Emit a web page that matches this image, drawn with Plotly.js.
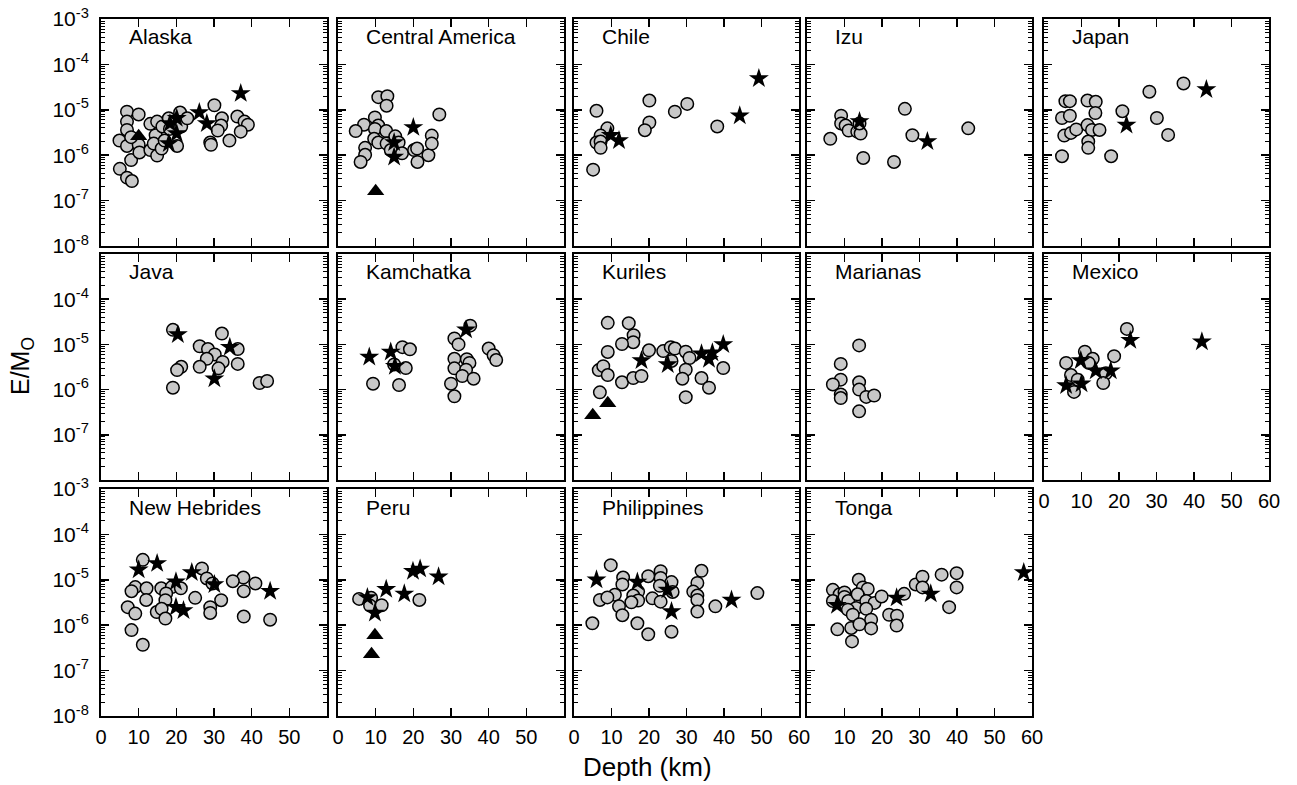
<!DOCTYPE html>
<html><head><meta charset="utf-8">
<script src="https://cdn.plot.ly/plotly-3.0.1.min.js"></script>
<style>html,body{margin:0;padding:0;background:#fff}#chart{width:1297px;height:785px}</style>
</head><body><div id="chart"></div>
<script>
// ---------------- DATA (depth in km, E/M0) ----------------
const regionNames = ["Alaska","Central America","Chile","Izu","Japan","Java","Kamchatka","Kuriles","Marianas","Mexico","New Hebrides","Peru","Philippines","Tonga"];

const alaskaCircDepth = [6.9,10,6.9,6.9,4.9,6.9,8,5,6.9,8.2,10,10.2,13.1,14.9,14.5,13.1,14,14.9,16.1,16.9,16.3,18,18.3,21,21.3,20.2,22.9,30.1,32.1,31.9,31,29,29.2,34.1,36.2,38.1,39,37.1,8];
const alaskaCircEM    = [9.1e-6,7.9e-6,5.5e-6,3.6e-6,2.1e-6,1.6e-6,7.8e-7,5.0e-7,3.2e-7,2.7e-7,1.7e-6,1.15e-6,4.9e-6,5.5e-6,2.75e-6,1.3e-6,1.8e-6,9.8e-7,1.4e-6,2.1e-6,4.3e-6,6.5e-6,3.8e-6,8.7e-6,4.3e-6,1.6e-6,6.5e-6,1.26e-5,6.5e-6,4.5e-6,3.5e-6,1.9e-6,1.7e-6,2.1e-6,7.1e-6,5.5e-6,4.7e-6,3.3e-6,2.5e-6];
const alaskaStarDepth = [37.1,26.1,28.1,18.3,20.1,20.1,18];
const alaskaStarEM    = [2.3e-5,8.7e-6,5.0e-6,5.0e-6,6.5e-6,3.0e-6,1.8e-6];
const alaskaTriDepth  = [10];
const alaskaTriEM     = [2.6e-6];

const camCircDepth = [10.7,13.1,12.9,26.9,9.8,6.9,4.7,10.7,9.8,9.6,10.7,12.8,12.9,15.2,16.1,14,7.2,7.2,6,17,20.2,21.1,24,24.9,24.9,21];
const camCircEM    = [1.9e-5,2.0e-5,1.23e-5,7.9e-6,6.8e-6,4.7e-6,3.4e-6,4.5e-6,3.8e-6,2.3e-6,1.9e-6,3.4e-6,1.8e-6,2.6e-6,1.9e-6,1.3e-6,1.45e-6,1.02e-6,7.1e-7,1.1e-6,1.3e-6,7.1e-7,1.0e-6,2.7e-6,1.8e-6,1.4e-6];
const camStarDepth = [20,14.9,14.9];
const camStarEM    = [4.1e-6,1.9e-6,9.1e-7];
const camTriDepth  = [10];
const camTriEM     = [1.6e-7];

const chileCircDepth = [6,8.9,7.1,6,7.1,7.1,5.1,20.1,20.1,18.9,26.9,30.2,38.2];
const chileCircEM    = [9.5e-6,3.9e-6,2.7e-6,1.9e-6,2.0e-6,1.45e-6,4.8e-7,1.6e-5,5.25e-6,3.55e-6,9.1e-6,1.35e-5,4.3e-6];
const chileStarDepth = [49.3,44.2,9.8,12];
const chileStarEM    = [4.9e-5,7.4e-6,2.75e-6,2.1e-6];

const izuCircDepth = [6.2,9.1,9.1,10.3,11.1,13.4,14.3,15,23.2,26.1,28.1,43,14];
const izuCircEM    = [2.3e-6,7.4e-6,5.0e-6,4.5e-6,3.5e-6,3.3e-6,3.0e-6,8.7e-7,7.1e-7,1.05e-5,2.75e-6,3.9e-6,5.0e-6];
const izuStarDepth = [14,32.1];
const izuStarEM    = [5.5e-6,2.0e-6];

const japanCircDepth = [5.7,6.9,11.6,13.8,28.1,37.2,4.8,6.9,13.7,20.9,30.1,5.4,7.2,8.6,11.6,12.8,14.8,11.8,11.8,33.1,4.8,17.9];
const japanCircEM    = [1.55e-5,1.55e-5,1.6e-5,1.5e-5,2.5e-5,3.8e-5,6.6e-6,7.4e-6,8.5e-6,9.3e-6,6.6e-6,2.7e-6,3.1e-6,3.7e-6,4.6e-6,3.6e-6,3.6e-6,2.0e-6,1.45e-6,2.8e-6,9.5e-7,9.5e-7];
const japanStarDepth = [43.3,22];
const japanStarEM    = [2.8e-5,4.6e-6];

const javaCircDepth = [19.1,32.1,26.2,28.4,36.3,30.2,28.1,32.3,31.2,26.2,36.3,21.3,20.2,19.1,42.1,44.1];
const javaCircEM    = [2.1e-5,1.74e-5,9.1e-6,7.9e-6,7.9e-6,6.0e-6,4.8e-6,4.1e-6,2.95e-6,3.2e-6,3.7e-6,3.2e-6,2.7e-6,1.1e-6,1.4e-6,1.55e-6];
const javaStarDepth = [20.4,34.2,30.1];
const javaStarEM    = [1.66e-5,8.7e-6,1.74e-6];

const kamCircDepth = [35.1,30.9,32,17.1,19.1,40,41.3,42,30.9,34.2,34.9,30.9,34,33,36,14.9,18,9.3,16.2,30,30.9];
const kamCircEM    = [2.6e-5,1.35e-5,1.0e-5,8.7e-6,7.8e-6,8.1e-6,5.75e-6,4.5e-6,4.8e-6,4.7e-6,3.9e-6,2.95e-6,2.75e-6,2.0e-6,1.74e-6,3.6e-6,3.0e-6,1.35e-6,1.26e-6,1.35e-6,7.1e-7];
const kamStarDepth = [8.3,14,15.1,34];
const kamStarEM    = [5.25e-6,6.8e-6,3.3e-6,2.1e-5];

const kurCircDepth = [9,14.6,15.9,15.8,12.8,9,20,23.8,25.8,26.9,26,29.8,30.8,29.8,28.9,29.8,34,36,39.8,6.6,7.8,9,12.8,15.8,18,6.9];
const kurCircEM    = [3.0e-5,2.95e-5,1.6e-5,1.12e-5,1.02e-5,6.8e-6,7.4e-6,7.1e-6,8.7e-6,8.1e-6,4.3e-6,6.9e-6,5.0e-6,2.75e-6,1.74e-6,6.8e-7,1.8e-6,1.1e-6,3.0e-6,2.7e-6,3.3e-6,2.1e-6,1.45e-6,1.8e-6,2.0e-6,8.7e-7];
const kurStarDepth = [18,25,34,36.9,36,39.8];
const kurStarEM    = [4.4e-6,3.6e-6,6.2e-6,6.5e-6,4.7e-6,1.0e-5];
const kurTriDepth  = [5,9];
const kurTriEM     = [2.7e-7,5.0e-7];

const marCircDepth = [13.9,9,9,6.9,9,9,13.9,13.9,15.8,17.9,13.9];
const marCircEM    = [9.5e-6,3.7e-6,1.66e-6,1.3e-6,7.8e-7,6.5e-7,1.45e-6,1.0e-6,6.9e-7,7.4e-7,3.3e-7];

const mexCircDepth = [22.1,10.9,13,11.9,5.9,18.7,7.2,9,16.5,15.8,8];
const mexCircEM    = [2.2e-5,6.9e-6,4.8e-6,3.9e-6,3.9e-6,5.5e-6,2.1e-6,1.66e-6,2.3e-6,1.4e-6,8.9e-7];
const mexStarDepth = [23,42.1,9.8,13.8,17.8,5.9,10];
const mexStarEM    = [1.23e-5,1.15e-5,4.4e-6,2.6e-6,2.6e-6,1.23e-6,1.35e-6];

const nhCircDepth = [11.1,26.8,28.1,29.6,37.8,35,41,37.9,9.1,8.1,12.1,16,18.8,21.2,12,17.3,17.1,25,31.9,7.1,9.1,14.8,16.1,17.1,29,29,37.9,44.9,8.1,11.1];
const nhCircEM    = [2.75e-5,1.78e-5,1.07e-5,8.3e-6,1.12e-5,9.3e-6,8.3e-6,5.6e-6,6.9e-6,5.6e-6,6.5e-6,6.5e-6,6.9e-6,6.5e-6,3.6e-6,5.0e-6,3.55e-6,4.0e-6,3.55e-6,2.5e-6,1.8e-6,1.95e-6,2.3e-6,1.4e-6,2.5e-6,1.86e-6,1.55e-6,1.32e-6,7.8e-7,3.7e-7];
const nhStarDepth = [10,14.9,24.1,19.9,30.1,44.9,19.9,21.9];
const nhStarEM    = [1.66e-5,2.3e-5,1.45e-5,9.1e-6,7.9e-6,5.6e-6,2.5e-6,2.1e-6];

const peruCircDepth = [5.6,8.8,8.5,11.6,21.6];
const peruCircEM    = [3.8e-6,4.0e-6,2.7e-6,2.75e-6,3.6e-6];
const peruStarDepth = [7.8,12.8,17.6,19.9,21.8,26.7,9.8];
const peruStarEM    = [4.1e-6,6.2e-6,4.9e-6,1.55e-5,1.74e-5,1.17e-5,1.86e-6];
const peruTriDepth  = [9.8,8.9];
const peruTriEM     = [6.0e-7,2.3e-7];

const phiCircDepth = [9.8,34,23.1,19.8,13.1,23.1,12.9,26,32.9,22.9,17.1,26.3,31.8,48.9,6.9,10.9,8.9,15.8,20.9,23.1,32.9,32.9,17.1,15.3,12,37.7,32.9,12.9,4.9,16.9,26,19.8];
const phiCircEM    = [2.1e-5,1.58e-5,1.55e-5,1.2e-5,1.12e-5,1.1e-5,7.9e-6,8.9e-6,8.5e-6,7.4e-6,5.5e-6,5.4e-6,5.5e-6,5.1e-6,3.6e-6,4.7e-6,4.1e-6,4.5e-6,3.9e-6,3.3e-6,4.5e-6,3.6e-6,3.5e-6,3.2e-6,2.6e-6,2.6e-6,2.0e-6,1.66e-6,1.1e-6,1.1e-6,7.2e-7,6.3e-7];
const phiStarDepth = [6,16.9,24.9,26,42];
const phiStarEM    = [1.0e-5,8.9e-6,6.0e-6,2.0e-6,3.6e-6];

const tonCircDepth = [13.8,14.9,16.2,6.9,8.7,10,10,6.9,11,13.5,15.8,18,19.9,13.1,15.8,10.9,12.2,17.1,21.9,24,23.9,25.9,29,30.8,30.8,35.9,39.9,39.9,37.9,8.1,11.8,14,17.1,12];
const tonCircEM    = [1.0e-5,6.8e-6,6.3e-6,6.0e-6,4.8e-6,5.25e-6,4.2e-6,3.4e-6,3.4e-6,4.8e-6,3.4e-6,3.1e-6,4.3e-6,2.4e-6,2.3e-6,2.2e-6,1.7e-6,1.32e-6,1.7e-6,1.62e-6,9.8e-7,4.9e-6,7.9e-6,1.17e-5,6.8e-6,1.3e-5,1.4e-5,6.8e-6,2.5e-6,8.1e-7,8.7e-7,1.05e-6,8.5e-7,4.4e-7];
const tonStarDepth = [8,23.9,33,57.8];
const tonStarEM    = [2.75e-6,4.0e-6,4.9e-6,1.45e-5];

const xTickVals = [0,10,20,30,40,50,60];
const yExponents = [-3,-4,-5,-6,-7,-8];

// ---------------- ASSEMBLY ----------------
const panelData = [
  [alaskaCircDepth,alaskaCircEM,alaskaStarDepth,alaskaStarEM,alaskaTriDepth,alaskaTriEM],
  [camCircDepth,camCircEM,camStarDepth,camStarEM,camTriDepth,camTriEM],
  [chileCircDepth,chileCircEM,chileStarDepth,chileStarEM,[],[]],
  [izuCircDepth,izuCircEM,izuStarDepth,izuStarEM,[],[]],
  [japanCircDepth,japanCircEM,japanStarDepth,japanStarEM,[],[]],
  [javaCircDepth,javaCircEM,javaStarDepth,javaStarEM,[],[]],
  [kamCircDepth,kamCircEM,kamStarDepth,kamStarEM,[],[]],
  [kurCircDepth,kurCircEM,kurStarDepth,kurStarEM,kurTriDepth,kurTriEM],
  [marCircDepth,marCircEM,[],[],[],[]],
  [mexCircDepth,mexCircEM,mexStarDepth,mexStarEM,[],[]],
  [nhCircDepth,nhCircEM,nhStarDepth,nhStarEM,[],[]],
  [peruCircDepth,peruCircEM,peruStarDepth,peruStarEM,peruTriDepth,peruTriEM],
  [phiCircDepth,phiCircEM,phiStarDepth,phiStarEM,[],[]],
  [tonCircDepth,tonCircEM,tonStarDepth,tonStarEM,[],[]]
];

const W = 1297, H = 785;
const colPx = [[101,327],[338,564],[574,799],[807,1032],[1044,1269]];
const rowPx = [[19,246],[254,480],[489,716]];
const FONT = 'Liberation Sans, Arial, Helvetica, sans-serif';

const minorVals = [];
for (let e = -8; e < -3; e++) for (let k = 2; k <= 9; k++) minorVals.push(k * Math.pow(10, e));
const yTickVals = yExponents.map(e => Math.pow(10, e));

const traces = [];
const layout = {
  width: W, height: H, autosize: false,
  margin: {l:0, r:0, t:0, b:0},
  paper_bgcolor: '#fff', plot_bgcolor: '#fff',
  showlegend: false,
  font: {family: FONT, color: '#000', size: 20},
  annotations: []
};

regionNames.forEach((name, i) => {
  const row = Math.floor(i / 5), col = i % 5;
  const s = i === 0 ? '' : String(i + 1);
  const xa = 'x' + s, ya = 'y' + s;
  const [cd, ce, sd, se, td, te] = panelData[i];

  traces.push({type:'scatter', mode:'markers', x: cd, y: ce, xaxis: xa, yaxis: ya, cliponaxis:false,
    marker:{symbol:'circle', size:12.5, color:'#c8c8c8', line:{color:'#000', width:1.5}}, hoverinfo:'skip'});
  if (sd.length) traces.push({type:'scatter', mode:'markers', x: sd, y: se, xaxis: xa, yaxis: ya, cliponaxis:false,
    marker:{symbol:'star', size:15, color:'#000', line:{width:0}}, hoverinfo:'skip'});
  if (td.length) traces.push({type:'scatter', mode:'markers', x: td, y: te, xaxis: xa, yaxis: ya, cliponaxis:false,
    marker:{symbol:'triangle-up', size:15, color:'#000', line:{width:0}}, hoverinfo:'skip'});

  const showX = (row === 2) || (i === 9);
  const xText = xTickVals.map(v => {
    if (!showX) return '';
    if (row === 2 && col <= 1 && v === 60) return '';
    if (row === 2 && col === 3 && v === 0) return '';
    return String(v);
  });
  layout['xaxis' + s] = {
    domain: [colPx[col][0] / W, colPx[col][1] / W],
    anchor: ya, range: [0, 60],
    showline: true, linecolor: '#000', linewidth: 2, mirror: 'ticks',
    ticks: 'inside', ticklen: 8, tickwidth: 1.5, tickcolor: '#000',
    tickmode: 'array', tickvals: xTickVals, ticktext: xText,
    showticklabels: showX, ticklabelstandoff: 2,
    showgrid: false, zeroline: false,
    tickfont: {family: FONT, size: 20, color: '#000'}
  };
  const yText = yExponents.map(e => {
    if (row === 1 && (e === -3 || e === -8)) return '';
    return '10<sup>' + e + '</sup>';
  });
  layout['yaxis' + s] = {
    domain: [1 - rowPx[row][1] / H, 1 - rowPx[row][0] / H],
    anchor: xa, type: 'log', range: [-8, -3],
    showline: true, linecolor: '#000', linewidth: 2, mirror: 'ticks',
    ticks: 'inside', ticklen: 8, tickwidth: 1.5, tickcolor: '#000',
    tickmode: 'array', tickvals: yTickVals, ticktext: yText,
    showticklabels: col === 0, ticklabelstandoff: 6,
    minor: {ticks: 'inside', ticklen: 4, tickwidth: 1, tickcolor: '#000', tickmode: 'array', tickvals: minorVals, showgrid: false},
    showgrid: false, zeroline: false,
    tickfont: {family: FONT, size: 21, color: '#000'}
  };
  layout.annotations.push({
    text: name, xref: 'paper', yref: 'paper',
    x: (colPx[col][0] + 26) / W, y: 1 - (rowPx[row][0] + 18) / H,
    xanchor: 'left', yanchor: 'middle', showarrow: false,
    font: {family: FONT, size: 21, color: '#000'}
  });
});

layout.annotations.push({
  text: 'Depth (km)', xref: 'paper', yref: 'paper', x: 647 / W, y: 1 - 767 / H,
  xanchor: 'center', yanchor: 'middle', showarrow: false,
  font: {family: FONT, size: 26, color: '#000'}
});
layout.annotations.push({
  text: 'E/M<sub>O</sub>', xref: 'paper', yref: 'paper', x: 22 / W, y: 1 - 366 / H,
  xanchor: 'center', yanchor: 'middle', showarrow: false, textangle: -90,
  font: {family: FONT, size: 25, color: '#000'}
});

Plotly.newPlot('chart', traces, layout, {staticPlot: true, displayModeBar: false});
</script>
</body></html>
